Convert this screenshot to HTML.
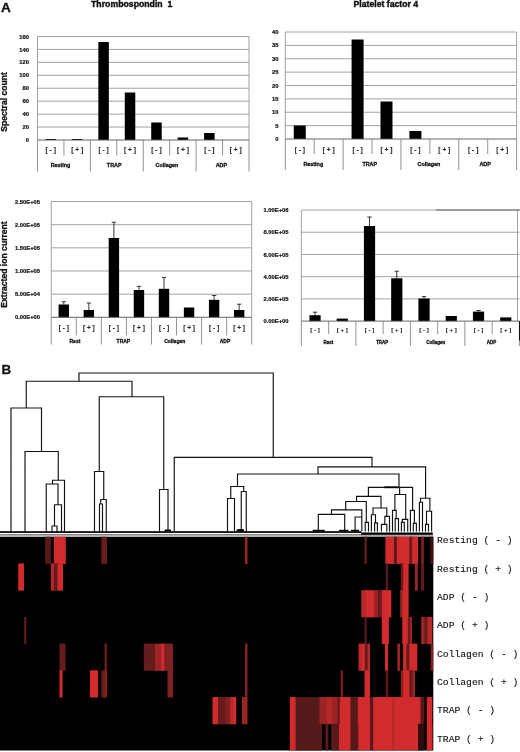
<!DOCTYPE html>
<html><head><meta charset="utf-8"><title>Figure</title>
<style>
html,body{margin:0;padding:0;background:#fff;}
body{width:520px;height:752px;overflow:hidden;}
svg{display:block;font-family:"Liberation Sans",sans-serif;}
.mono{font-family:"Liberation Mono",monospace;}
</style></head><body>
<svg width="520" height="752" viewBox="0 0 520 752">
<rect x="0" y="0" width="520" height="752" fill="#fff"/>

<text x="0.9" y="12.4" font-size="13.6" text-anchor="start" font-weight="bold" fill="#111" stroke="#111" stroke-width="0.3">A</text>
<text x="1.6" y="374.4" font-size="13.4" text-anchor="start" font-weight="bold" fill="#111" stroke="#111" stroke-width="0.3">B</text>
<text x="131.7" y="7.3" font-size="8.6" text-anchor="middle" font-weight="bold" fill="#111" stroke="#111" stroke-width="0.4" xml:space="preserve" textLength="81.4" lengthAdjust="spacingAndGlyphs">Thrombospondin&#160;&#160;1</text>
<text x="385.8" y="6.5" font-size="8.5" text-anchor="middle" font-weight="bold" fill="#111" stroke="#111" stroke-width="0.4" textLength="64.4" lengthAdjust="spacingAndGlyphs">Platelet factor 4</text>
<text transform="translate(7.1,102) rotate(-90)" font-size="8.6" font-weight="bold" text-anchor="middle" fill="#111" stroke="#111" stroke-width="0.3">Spectral count</text>
<text transform="translate(7.0,264.5) rotate(-90)" font-size="8.6" font-weight="bold" text-anchor="middle" fill="#111" stroke="#111" stroke-width="0.3">Extracted ion current</text>
<text x="29" y="142.09" font-size="5.8" text-anchor="end" font-weight="bold" fill="#111" stroke="#111" stroke-width="0.2">0</text>
<line x1="37.5" y1="127.06" x2="249" y2="127.06" stroke="#8c8c8c" stroke-width="0.8"/>
<text x="29" y="129.15" font-size="5.8" text-anchor="end" font-weight="bold" fill="#111" stroke="#111" stroke-width="0.2">20</text>
<line x1="37.5" y1="114.12" x2="249" y2="114.12" stroke="#8c8c8c" stroke-width="0.8"/>
<text x="29" y="116.21" font-size="5.8" text-anchor="end" font-weight="bold" fill="#111" stroke="#111" stroke-width="0.2">40</text>
<line x1="37.5" y1="101.19" x2="249" y2="101.19" stroke="#8c8c8c" stroke-width="0.8"/>
<text x="29" y="103.28" font-size="5.8" text-anchor="end" font-weight="bold" fill="#111" stroke="#111" stroke-width="0.2">60</text>
<line x1="37.5" y1="88.25" x2="249" y2="88.25" stroke="#8c8c8c" stroke-width="0.8"/>
<text x="29" y="90.34" font-size="5.8" text-anchor="end" font-weight="bold" fill="#111" stroke="#111" stroke-width="0.2">80</text>
<line x1="37.5" y1="75.31" x2="249" y2="75.31" stroke="#8c8c8c" stroke-width="0.8"/>
<text x="29" y="77.4" font-size="5.8" text-anchor="end" font-weight="bold" fill="#111" stroke="#111" stroke-width="0.2">100</text>
<line x1="37.5" y1="62.38" x2="249" y2="62.38" stroke="#8c8c8c" stroke-width="0.8"/>
<text x="29" y="64.46" font-size="5.8" text-anchor="end" font-weight="bold" fill="#111" stroke="#111" stroke-width="0.2">120</text>
<line x1="37.5" y1="49.44" x2="249" y2="49.44" stroke="#8c8c8c" stroke-width="0.8"/>
<text x="29" y="51.53" font-size="5.8" text-anchor="end" font-weight="bold" fill="#111" stroke="#111" stroke-width="0.2">140</text>
<line x1="37.5" y1="36.5" x2="249" y2="36.5" stroke="#8c8c8c" stroke-width="0.8"/>
<text x="29" y="38.59" font-size="5.8" text-anchor="end" font-weight="bold" fill="#111" stroke="#111" stroke-width="0.2">160</text>
<line x1="37.5" y1="36.5" x2="37.5" y2="140" stroke="#8c8c8c" stroke-width="0.8"/>
<line x1="249" y1="36.5" x2="249" y2="140" stroke="#8c8c8c" stroke-width="0.8"/>
<rect x="45.47" y="139" width="10.5" height="1" fill="#000"/>
<rect x="71.91" y="139" width="10.5" height="1" fill="#000"/>
<rect x="98.34" y="42" width="10.5" height="98" fill="#000"/>
<rect x="124.78" y="92.5" width="10.5" height="47.5" fill="#000"/>
<rect x="151.22" y="122.5" width="10.5" height="17.5" fill="#000"/>
<rect x="177.66" y="137.5" width="10.5" height="2.5" fill="#000"/>
<rect x="204.09" y="133" width="10.5" height="7" fill="#000"/>
<line x1="37.5" y1="140" x2="249" y2="140" stroke="#555" stroke-width="0.9"/>
<line x1="37.5" y1="140" x2="37.5" y2="171.5" stroke="#777" stroke-width="0.8"/>
<line x1="63.94" y1="140" x2="63.94" y2="155.5" stroke="#777" stroke-width="0.8"/>
<line x1="90.38" y1="140" x2="90.38" y2="171.5" stroke="#777" stroke-width="0.8"/>
<line x1="116.81" y1="140" x2="116.81" y2="155.5" stroke="#777" stroke-width="0.8"/>
<line x1="143.25" y1="140" x2="143.25" y2="171.5" stroke="#777" stroke-width="0.8"/>
<line x1="169.69" y1="140" x2="169.69" y2="155.5" stroke="#777" stroke-width="0.8"/>
<line x1="196.12" y1="140" x2="196.12" y2="171.5" stroke="#777" stroke-width="0.8"/>
<line x1="222.56" y1="140" x2="222.56" y2="155.5" stroke="#777" stroke-width="0.8"/>
<line x1="249" y1="140" x2="249" y2="171.5" stroke="#777" stroke-width="0.8"/>
<text x="50.72" y="152.18" font-size="6.6" text-anchor="middle" font-weight="bold" fill="#222" stroke="#222" stroke-width="0.08">[ - ]</text>
<text x="77.16" y="152.18" font-size="6.6" text-anchor="middle" font-weight="bold" fill="#222" stroke="#222" stroke-width="0.08">[ + ]</text>
<text x="103.59" y="152.18" font-size="6.6" text-anchor="middle" font-weight="bold" fill="#222" stroke="#222" stroke-width="0.08">[ - ]</text>
<text x="130.03" y="152.18" font-size="6.6" text-anchor="middle" font-weight="bold" fill="#222" stroke="#222" stroke-width="0.08">[ + ]</text>
<text x="156.47" y="152.18" font-size="6.6" text-anchor="middle" font-weight="bold" fill="#222" stroke="#222" stroke-width="0.08">[ - ]</text>
<text x="182.91" y="152.18" font-size="6.6" text-anchor="middle" font-weight="bold" fill="#222" stroke="#222" stroke-width="0.08">[ + ]</text>
<text x="209.34" y="152.18" font-size="6.6" text-anchor="middle" font-weight="bold" fill="#222" stroke="#222" stroke-width="0.08">[ - ]</text>
<text x="235.78" y="152.18" font-size="6.6" text-anchor="middle" font-weight="bold" fill="#222" stroke="#222" stroke-width="0.08">[ + ]</text>
<text x="60.54" y="166.94" font-size="5.4" text-anchor="middle" font-weight="bold" fill="#111" stroke="#111" stroke-width="0.28">Resting</text>
<text x="114.21" y="166.94" font-size="5.4" text-anchor="middle" font-weight="bold" fill="#111" stroke="#111" stroke-width="0.28">TRAP</text>
<text x="166.89" y="166.94" font-size="5.4" text-anchor="middle" font-weight="bold" fill="#111" stroke="#111" stroke-width="0.28">Collagen</text>
<text x="221.36" y="166.94" font-size="5.4" text-anchor="middle" font-weight="bold" fill="#111" stroke="#111" stroke-width="0.28">ADP</text>
<text x="278.5" y="141.09" font-size="5.8" text-anchor="end" font-weight="bold" fill="#111" stroke="#111" stroke-width="0.2">0</text>
<line x1="285.3" y1="125.62" x2="516.6" y2="125.62" stroke="#8c8c8c" stroke-width="0.8"/>
<text x="278.5" y="127.71" font-size="5.8" text-anchor="end" font-weight="bold" fill="#111" stroke="#111" stroke-width="0.2">5</text>
<line x1="285.3" y1="112.25" x2="516.6" y2="112.25" stroke="#8c8c8c" stroke-width="0.8"/>
<text x="278.5" y="114.34" font-size="5.8" text-anchor="end" font-weight="bold" fill="#111" stroke="#111" stroke-width="0.2">10</text>
<line x1="285.3" y1="98.88" x2="516.6" y2="98.88" stroke="#8c8c8c" stroke-width="0.8"/>
<text x="278.5" y="100.96" font-size="5.8" text-anchor="end" font-weight="bold" fill="#111" stroke="#111" stroke-width="0.2">15</text>
<line x1="285.3" y1="85.5" x2="516.6" y2="85.5" stroke="#8c8c8c" stroke-width="0.8"/>
<text x="278.5" y="87.59" font-size="5.8" text-anchor="end" font-weight="bold" fill="#111" stroke="#111" stroke-width="0.2">20</text>
<line x1="285.3" y1="72.12" x2="516.6" y2="72.12" stroke="#8c8c8c" stroke-width="0.8"/>
<text x="278.5" y="74.21" font-size="5.8" text-anchor="end" font-weight="bold" fill="#111" stroke="#111" stroke-width="0.2">25</text>
<line x1="285.3" y1="58.75" x2="516.6" y2="58.75" stroke="#8c8c8c" stroke-width="0.8"/>
<text x="278.5" y="60.84" font-size="5.8" text-anchor="end" font-weight="bold" fill="#111" stroke="#111" stroke-width="0.2">30</text>
<line x1="285.3" y1="45.38" x2="516.6" y2="45.38" stroke="#8c8c8c" stroke-width="0.8"/>
<text x="278.5" y="47.46" font-size="5.8" text-anchor="end" font-weight="bold" fill="#111" stroke="#111" stroke-width="0.2">35</text>
<line x1="285.3" y1="32" x2="516.6" y2="32" stroke="#8c8c8c" stroke-width="0.8"/>
<text x="278.5" y="34.09" font-size="5.8" text-anchor="end" font-weight="bold" fill="#111" stroke="#111" stroke-width="0.2">40</text>
<line x1="285.3" y1="32" x2="285.3" y2="139" stroke="#8c8c8c" stroke-width="0.8"/>
<line x1="516.6" y1="32" x2="516.6" y2="139" stroke="#8c8c8c" stroke-width="0.8"/>
<rect x="293.76" y="125.5" width="12" height="13.5" fill="#000"/>
<rect x="351.58" y="39.5" width="12" height="99.5" fill="#000"/>
<rect x="380.49" y="101.5" width="12" height="37.5" fill="#000"/>
<rect x="409.41" y="131" width="12" height="8" fill="#000"/>
<line x1="285.3" y1="139" x2="516.6" y2="139" stroke="#555" stroke-width="0.9"/>
<line x1="285.3" y1="139" x2="285.3" y2="170" stroke="#777" stroke-width="0.8"/>
<line x1="314.21" y1="139" x2="314.21" y2="154" stroke="#777" stroke-width="0.8"/>
<line x1="343.12" y1="139" x2="343.12" y2="170" stroke="#777" stroke-width="0.8"/>
<line x1="372.04" y1="139" x2="372.04" y2="154" stroke="#777" stroke-width="0.8"/>
<line x1="400.95" y1="139" x2="400.95" y2="170" stroke="#777" stroke-width="0.8"/>
<line x1="429.86" y1="139" x2="429.86" y2="154" stroke="#777" stroke-width="0.8"/>
<line x1="458.78" y1="139" x2="458.78" y2="170" stroke="#777" stroke-width="0.8"/>
<line x1="487.69" y1="139" x2="487.69" y2="154" stroke="#777" stroke-width="0.8"/>
<line x1="516.6" y1="139" x2="516.6" y2="170" stroke="#777" stroke-width="0.8"/>
<text x="299.76" y="151.68" font-size="6.6" text-anchor="middle" font-weight="bold" fill="#222" stroke="#222" stroke-width="0.08">[ - ]</text>
<text x="328.67" y="151.68" font-size="6.6" text-anchor="middle" font-weight="bold" fill="#222" stroke="#222" stroke-width="0.08">[ + ]</text>
<text x="357.58" y="151.68" font-size="6.6" text-anchor="middle" font-weight="bold" fill="#222" stroke="#222" stroke-width="0.08">[ - ]</text>
<text x="386.49" y="151.68" font-size="6.6" text-anchor="middle" font-weight="bold" fill="#222" stroke="#222" stroke-width="0.08">[ + ]</text>
<text x="415.41" y="151.68" font-size="6.6" text-anchor="middle" font-weight="bold" fill="#222" stroke="#222" stroke-width="0.08">[ - ]</text>
<text x="444.32" y="151.68" font-size="6.6" text-anchor="middle" font-weight="bold" fill="#222" stroke="#222" stroke-width="0.08">[ + ]</text>
<text x="473.23" y="151.68" font-size="6.6" text-anchor="middle" font-weight="bold" fill="#222" stroke="#222" stroke-width="0.08">[ - ]</text>
<text x="502.14" y="151.68" font-size="6.6" text-anchor="middle" font-weight="bold" fill="#222" stroke="#222" stroke-width="0.08">[ + ]</text>
<text x="313.31" y="166.24" font-size="5.4" text-anchor="middle" font-weight="bold" fill="#111" stroke="#111" stroke-width="0.28">Resting</text>
<text x="369.74" y="166.24" font-size="5.4" text-anchor="middle" font-weight="bold" fill="#111" stroke="#111" stroke-width="0.28">TRAP</text>
<text x="428.96" y="166.24" font-size="5.4" text-anchor="middle" font-weight="bold" fill="#111" stroke="#111" stroke-width="0.28">Collagen</text>
<text x="485.09" y="166.24" font-size="5.4" text-anchor="middle" font-weight="bold" fill="#111" stroke="#111" stroke-width="0.28">ADP</text>
<text x="40" y="319.39" font-size="5.8" text-anchor="end" font-weight="bold" fill="#111" stroke="#111" stroke-width="0.2">0.00E+00</text>
<line x1="51.25" y1="294.14" x2="251.7" y2="294.14" stroke="#8c8c8c" stroke-width="0.8"/>
<text x="40" y="296.23" font-size="5.8" text-anchor="end" font-weight="bold" fill="#111" stroke="#111" stroke-width="0.2">5.00E+04</text>
<line x1="51.25" y1="270.98" x2="251.7" y2="270.98" stroke="#8c8c8c" stroke-width="0.8"/>
<text x="40" y="273.07" font-size="5.8" text-anchor="end" font-weight="bold" fill="#111" stroke="#111" stroke-width="0.2">1.00E+05</text>
<line x1="51.25" y1="247.82" x2="251.7" y2="247.82" stroke="#8c8c8c" stroke-width="0.8"/>
<text x="40" y="249.91" font-size="5.8" text-anchor="end" font-weight="bold" fill="#111" stroke="#111" stroke-width="0.2">1.50E+05</text>
<line x1="51.25" y1="224.66" x2="251.7" y2="224.66" stroke="#8c8c8c" stroke-width="0.8"/>
<text x="40" y="226.75" font-size="5.8" text-anchor="end" font-weight="bold" fill="#111" stroke="#111" stroke-width="0.2">2.00E+05</text>
<line x1="51.25" y1="201.5" x2="251.7" y2="201.5" stroke="#8c8c8c" stroke-width="0.8"/>
<text x="40" y="203.59" font-size="5.8" text-anchor="end" font-weight="bold" fill="#111" stroke="#111" stroke-width="0.2">2.50E+05</text>
<line x1="51.25" y1="201.5" x2="51.25" y2="317.3" stroke="#8c8c8c" stroke-width="0.8"/>
<line x1="251.7" y1="201.5" x2="251.7" y2="317.3" stroke="#8c8c8c" stroke-width="0.8"/>
<line x1="63.78" y1="301.75" x2="63.78" y2="304.5" stroke="#222" stroke-width="0.9"/>
<line x1="61.58" y1="301.75" x2="65.98" y2="301.75" stroke="#222" stroke-width="0.9"/>
<rect x="58.58" y="304.5" width="10.4" height="12.8" fill="#000"/>
<line x1="88.83" y1="303" x2="88.83" y2="310" stroke="#222" stroke-width="0.9"/>
<line x1="86.63" y1="303" x2="91.03" y2="303" stroke="#222" stroke-width="0.9"/>
<rect x="83.63" y="310" width="10.4" height="7.3" fill="#000"/>
<line x1="113.89" y1="222.2" x2="113.89" y2="238" stroke="#222" stroke-width="0.9"/>
<line x1="111.69" y1="222.2" x2="116.09" y2="222.2" stroke="#222" stroke-width="0.9"/>
<rect x="108.69" y="238" width="10.4" height="79.3" fill="#000"/>
<line x1="138.95" y1="286.3" x2="138.95" y2="290" stroke="#222" stroke-width="0.9"/>
<line x1="136.75" y1="286.3" x2="141.15" y2="286.3" stroke="#222" stroke-width="0.9"/>
<rect x="133.75" y="290" width="10.4" height="27.3" fill="#000"/>
<line x1="164" y1="277.4" x2="164" y2="288.8" stroke="#222" stroke-width="0.9"/>
<line x1="161.8" y1="277.4" x2="166.2" y2="277.4" stroke="#222" stroke-width="0.9"/>
<rect x="158.8" y="288.8" width="10.4" height="28.5" fill="#000"/>
<rect x="183.86" y="307.5" width="10.4" height="9.8" fill="#000"/>
<line x1="214.12" y1="295.5" x2="214.12" y2="299.8" stroke="#222" stroke-width="0.9"/>
<line x1="211.92" y1="295.5" x2="216.32" y2="295.5" stroke="#222" stroke-width="0.9"/>
<rect x="208.92" y="299.8" width="10.4" height="17.5" fill="#000"/>
<line x1="239.17" y1="304.2" x2="239.17" y2="310" stroke="#222" stroke-width="0.9"/>
<line x1="236.97" y1="304.2" x2="241.37" y2="304.2" stroke="#222" stroke-width="0.9"/>
<rect x="233.97" y="310" width="10.4" height="7.3" fill="#000"/>
<line x1="51.25" y1="317.3" x2="251.7" y2="317.3" stroke="#555" stroke-width="0.9"/>
<line x1="51.25" y1="317.3" x2="51.25" y2="344.5" stroke="#777" stroke-width="0.8"/>
<line x1="76.31" y1="317.3" x2="76.31" y2="335.5" stroke="#777" stroke-width="0.8"/>
<line x1="101.36" y1="317.3" x2="101.36" y2="344.5" stroke="#777" stroke-width="0.8"/>
<line x1="126.42" y1="317.3" x2="126.42" y2="335.5" stroke="#777" stroke-width="0.8"/>
<line x1="151.47" y1="317.3" x2="151.47" y2="344.5" stroke="#777" stroke-width="0.8"/>
<line x1="176.53" y1="317.3" x2="176.53" y2="335.5" stroke="#777" stroke-width="0.8"/>
<line x1="201.59" y1="317.3" x2="201.59" y2="344.5" stroke="#777" stroke-width="0.8"/>
<line x1="226.64" y1="317.3" x2="226.64" y2="335.5" stroke="#777" stroke-width="0.8"/>
<line x1="251.7" y1="317.3" x2="251.7" y2="344.5" stroke="#777" stroke-width="0.8"/>
<text x="63.78" y="330.14" font-size="6.5" text-anchor="middle" font-weight="bold" fill="#222" stroke="#222" stroke-width="0.08">[ - ]</text>
<text x="88.83" y="330.14" font-size="6.5" text-anchor="middle" font-weight="bold" fill="#222" stroke="#222" stroke-width="0.08">[ + ]</text>
<text x="113.89" y="330.14" font-size="6.5" text-anchor="middle" font-weight="bold" fill="#222" stroke="#222" stroke-width="0.08">[ - ]</text>
<text x="138.95" y="330.14" font-size="6.5" text-anchor="middle" font-weight="bold" fill="#222" stroke="#222" stroke-width="0.08">[ + ]</text>
<text x="164" y="330.14" font-size="6.5" text-anchor="middle" font-weight="bold" fill="#222" stroke="#222" stroke-width="0.08">[ - ]</text>
<text x="189.06" y="330.14" font-size="6.5" text-anchor="middle" font-weight="bold" fill="#222" stroke="#222" stroke-width="0.08">[ + ]</text>
<text x="214.12" y="330.14" font-size="6.5" text-anchor="middle" font-weight="bold" fill="#222" stroke="#222" stroke-width="0.08">[ - ]</text>
<text x="239.17" y="330.14" font-size="6.5" text-anchor="middle" font-weight="bold" fill="#222" stroke="#222" stroke-width="0.08">[ + ]</text>
<text x="74.91" y="342.8" font-size="5.0" text-anchor="middle" font-weight="bold" fill="#111" stroke="#111" stroke-width="0.28">Rest</text>
<text x="123.42" y="342.8" font-size="5.0" text-anchor="middle" font-weight="bold" fill="#111" stroke="#111" stroke-width="0.28">TRAP</text>
<text x="174.73" y="342.8" font-size="5.0" text-anchor="middle" font-weight="bold" fill="#111" stroke="#111" stroke-width="0.28">Collagen</text>
<text x="225.04" y="342.8" font-size="5.0" text-anchor="middle" font-weight="bold" fill="#111" stroke="#111" stroke-width="0.28">ADP</text>
<text x="288.5" y="323.19" font-size="5.8" text-anchor="end" font-weight="bold" fill="#111" stroke="#111" stroke-width="0.2">0.00E+00</text>
<line x1="301.4" y1="298.88" x2="519.4" y2="298.88" stroke="#8c8c8c" stroke-width="0.8"/>
<text x="288.5" y="300.97" font-size="5.8" text-anchor="end" font-weight="bold" fill="#111" stroke="#111" stroke-width="0.2">2.00E+05</text>
<line x1="301.4" y1="276.66" x2="519.4" y2="276.66" stroke="#8c8c8c" stroke-width="0.8"/>
<text x="288.5" y="278.75" font-size="5.8" text-anchor="end" font-weight="bold" fill="#111" stroke="#111" stroke-width="0.2">4.00E+05</text>
<line x1="301.4" y1="254.44" x2="519.4" y2="254.44" stroke="#8c8c8c" stroke-width="0.8"/>
<text x="288.5" y="256.53" font-size="5.8" text-anchor="end" font-weight="bold" fill="#111" stroke="#111" stroke-width="0.2">6.00E+05</text>
<line x1="301.4" y1="232.22" x2="519.4" y2="232.22" stroke="#8c8c8c" stroke-width="0.8"/>
<text x="288.5" y="234.31" font-size="5.8" text-anchor="end" font-weight="bold" fill="#111" stroke="#111" stroke-width="0.2">8.00E+05</text>
<line x1="301.4" y1="210" x2="519.4" y2="210" stroke="#8c8c8c" stroke-width="0.8"/>
<text x="288.5" y="212.09" font-size="5.8" text-anchor="end" font-weight="bold" fill="#111" stroke="#111" stroke-width="0.2">1.00E+06</text>
<line x1="301.4" y1="210" x2="301.4" y2="321.1" stroke="#8c8c8c" stroke-width="0.8"/>
<line x1="517.5" y1="210" x2="517.5" y2="321.1" stroke="#8c8c8c" stroke-width="0.8"/>
<line x1="315.02" y1="312.2" x2="315.02" y2="315.2" stroke="#222" stroke-width="0.9"/>
<line x1="312.82" y1="312.2" x2="317.22" y2="312.2" stroke="#222" stroke-width="0.9"/>
<rect x="309.42" y="315.2" width="11.2" height="5.9" fill="#000"/>
<rect x="336.67" y="318.6" width="11.2" height="2.5" fill="#000"/>
<line x1="369.52" y1="217" x2="369.52" y2="226" stroke="#222" stroke-width="0.9"/>
<line x1="367.32" y1="217" x2="371.72" y2="217" stroke="#222" stroke-width="0.9"/>
<rect x="363.92" y="226" width="11.2" height="95.1" fill="#000"/>
<line x1="396.77" y1="271.2" x2="396.77" y2="278.3" stroke="#222" stroke-width="0.9"/>
<line x1="394.57" y1="271.2" x2="398.97" y2="271.2" stroke="#222" stroke-width="0.9"/>
<rect x="391.17" y="278.3" width="11.2" height="42.8" fill="#000"/>
<line x1="424.02" y1="296.6" x2="424.02" y2="298.5" stroke="#222" stroke-width="0.9"/>
<line x1="421.82" y1="296.6" x2="426.22" y2="296.6" stroke="#222" stroke-width="0.9"/>
<rect x="418.42" y="298.5" width="11.2" height="22.6" fill="#000"/>
<rect x="445.67" y="316" width="11.2" height="5.1" fill="#000"/>
<line x1="478.52" y1="310.5" x2="478.52" y2="311.6" stroke="#222" stroke-width="0.9"/>
<line x1="476.32" y1="310.5" x2="480.72" y2="310.5" stroke="#222" stroke-width="0.9"/>
<rect x="472.92" y="311.6" width="11.2" height="9.5" fill="#000"/>
<rect x="500.17" y="317.4" width="11.2" height="3.7" fill="#000"/>
<line x1="301.4" y1="321.1" x2="519.4" y2="321.1" stroke="#555" stroke-width="0.9"/>
<line x1="301.4" y1="321.1" x2="301.4" y2="346" stroke="#777" stroke-width="0.8"/>
<line x1="328.65" y1="321.1" x2="328.65" y2="334" stroke="#777" stroke-width="0.8"/>
<line x1="355.9" y1="321.1" x2="355.9" y2="346" stroke="#777" stroke-width="0.8"/>
<line x1="383.15" y1="321.1" x2="383.15" y2="334" stroke="#777" stroke-width="0.8"/>
<line x1="410.4" y1="321.1" x2="410.4" y2="346" stroke="#777" stroke-width="0.8"/>
<line x1="437.65" y1="321.1" x2="437.65" y2="334" stroke="#777" stroke-width="0.8"/>
<line x1="464.9" y1="321.1" x2="464.9" y2="346" stroke="#777" stroke-width="0.8"/>
<line x1="492.15" y1="321.1" x2="492.15" y2="334" stroke="#777" stroke-width="0.8"/>
<line x1="519.4" y1="321.1" x2="519.4" y2="346" stroke="#777" stroke-width="0.8"/>
<text x="315.02" y="331.6" font-size="6.1" text-anchor="middle" font-weight="bold" fill="#222" stroke="#222" stroke-width="0.08">[ - ]</text>
<text x="342.27" y="331.6" font-size="6.1" text-anchor="middle" font-weight="bold" fill="#222" stroke="#222" stroke-width="0.08">[ + ]</text>
<text x="369.52" y="331.6" font-size="6.1" text-anchor="middle" font-weight="bold" fill="#222" stroke="#222" stroke-width="0.08">[ - ]</text>
<text x="396.77" y="331.6" font-size="6.1" text-anchor="middle" font-weight="bold" fill="#222" stroke="#222" stroke-width="0.08">[ + ]</text>
<text x="424.02" y="331.6" font-size="6.1" text-anchor="middle" font-weight="bold" fill="#222" stroke="#222" stroke-width="0.08">[ - ]</text>
<text x="451.27" y="331.6" font-size="6.1" text-anchor="middle" font-weight="bold" fill="#222" stroke="#222" stroke-width="0.08">[ + ]</text>
<text x="478.52" y="331.6" font-size="6.1" text-anchor="middle" font-weight="bold" fill="#222" stroke="#222" stroke-width="0.08">[ - ]</text>
<text x="505.77" y="331.6" font-size="6.1" text-anchor="middle" font-weight="bold" fill="#222" stroke="#222" stroke-width="0.08">[ + ]</text>
<text x="328.35" y="343.52" font-size="4.5" text-anchor="middle" font-weight="bold" fill="#111" stroke="#111" stroke-width="0.28">Rest</text>
<text x="382.25" y="343.52" font-size="4.5" text-anchor="middle" font-weight="bold" fill="#111" stroke="#111" stroke-width="0.28">TRAP</text>
<text x="435.8" y="343.52" font-size="4.5" text-anchor="middle" font-weight="bold" fill="#111" stroke="#111" stroke-width="0.28">Collagen</text>
<text x="491.5" y="343.52" font-size="4.5" text-anchor="middle" font-weight="bold" fill="#111" stroke="#111" stroke-width="0.28">ADP</text>
<line x1="436" y1="210" x2="520" y2="210" stroke="#666" stroke-width="1.0"/>
<line x1="519.6" y1="321" x2="519.6" y2="340.5" stroke="#111" stroke-width="1.2"/>
<g stroke="#111" stroke-width="1.15" stroke-linecap="square" fill="none">
<path d="M79 373H273.25M26.25 381.25H132M11 408H41.5M25 451.5H58.25M52.5 480.25H64.5M46.25 484H58M54.5 504.75H61.5M52 526H57M99.25 396.75H163.75M94.5 471.5H103.75M100.75 499.5H106.25M99.5 504H102.5M159.5 489.5H168M165.75 530H170M174.25 457.3H372M318 466.8H425.6M237.5 474H399M230.75 486.5H243.75M227.5 498.5H234.5M241.25 491.5H246.25M238 529.5H243M368.4 487.3H412.6M356.6 496.3H381M345.7 501.5H366.3M365.2 522.4H368.5M331.5 509.9H361.8M355.1 517H361.8M318.3 514.3H344.7M373 508H386.8M371.4 514.7H375.5M374.6 522.9H377.4M384.8 516.3H389.5M381.4 524.4H386.8M394.9 494.5H405.7M392.5 510.3H396.2M395.2 518.6H398.5M402.3 519.3H407.7M401.4 522.4H404.3M410.4 510.3H414.4M413.3 523.3H416.4M420.5 498.2H429.9M419.4 502.2H422.5M426.5 511.2H431.6M425.5 524.4H428.5M79 373V381.25M273.25 373V457.3M26.25 381.25V408M132 381.25V396.75M11 408V532M41.5 408V451.5M25 451.5V532M58.25 451.5V480.25M64.5 480.25V532M52.5 480.25V484M46.25 484V532M58 484V504.75M61.5 504.75V532M54.5 504.75V526M52 526V532M57 526V532M99.25 396.75V471.5M163.75 396.75V489.5M94.5 471.5V532M103.75 471.5V499.5M106.25 499.5V532M100.75 499.5V504M99.5 504V532M102.5 504V532M159.5 489.5V532M168 489.5V530M174.25 457.3V532M372 457.3V466.8M318 466.8V474M425.6 466.8V498.2M237.5 474V486.5M399 474V487.3M230.75 486.5V498.5M243.75 486.5V491.5M227.5 498.5V532M234.5 498.5V532M241.25 491.5V529.5M246.25 491.5V532M368.4 487.3V496.3M412.6 487.3V510.3M356.6 496.3V501.5M381 496.3V508M345.7 501.5V509.9M366.3 501.5V522.4M365.2 522.4V532M368.5 522.4V532M331.5 509.9V514.3M361.8 509.9V532M355.1 517V532M318.3 514.3V532M344.7 514.3V532M373 508V514.7M386.8 508V516.3M371.4 514.7V532M375.5 514.7V522.9M374.6 522.9V532M377.4 522.9V532M389.5 516.3V532M384.8 516.3V524.4M381.4 524.4V532M386.8 524.4V532M399.6 487.3V494.5M394.9 494.5V510.3M392.5 510.3V532M396.2 510.3V518.6M395.2 518.6V532M398.5 518.6V532M405.7 494.5V519.3M407.7 519.3V532M402.3 519.3V522.4M401.4 522.4V532M404.3 522.4V532M410.4 510.3V532M414.4 510.3V523.3M413.3 523.3V532M416.4 523.3V532M420.5 498.2V502.2M429.9 498.2V511.2M419.4 502.2V532M422.5 502.2V532M431.6 511.2V532M426.5 511.2V524.4M425.5 524.4V532M428.5 524.4V532"/>
</g>
<line x1="384.4" y1="487.3" x2="399" y2="487.3" stroke="#000" stroke-width="1.8"/>
<line x1="312.7" y1="530.6" x2="324.8" y2="530.6" stroke="#000" stroke-width="1.6"/>
<line x1="339" y1="530.6" x2="348.4" y2="530.6" stroke="#000" stroke-width="1.6"/>
<line x1="351" y1="530.6" x2="359" y2="530.6" stroke="#000" stroke-width="1.6"/>
<line x1="236.5" y1="530.6" x2="244" y2="530.6" stroke="#000" stroke-width="1.6"/>
<line x1="164.5" y1="530.6" x2="171" y2="530.6" stroke="#000" stroke-width="1.6"/>
<rect x="0" y="531.2" width="361" height="1.7" fill="#000"/>
<rect x="0" y="534.1" width="361" height="1.5" fill="#7c7c7c"/>
<rect x="361" y="531.5" width="72.5" height="1.1" fill="#fff"/>
<rect x="361" y="532.5" width="71.8" height="2.4" fill="#000"/>
<rect x="361" y="534.9" width="72.3" height="1.6" fill="#b4a4a4"/>
<g>
<rect x="0" y="536.7" width="433.3" height="213.8" fill="#000"/>
<rect x="45.1" y="536.7" width="5.8" height="27.22" fill="#561a1a"/>
<rect x="53.8" y="536.7" width="12" height="27.22" fill="#d22b2d"/>
<rect x="101.25" y="536.7" width="5.75" height="27.22" fill="#661c1c"/>
<rect x="245" y="536.7" width="2.5" height="27.22" fill="#9c2424"/>
<rect x="364.5" y="536.7" width="2.3" height="27.22" fill="#661c1c"/>
<rect x="385.4" y="536.7" width="9.3" height="27.22" fill="#d22b2d"/>
<rect x="394.1" y="536.7" width="3.3" height="27.22" fill="#561a1a"/>
<rect x="396.8" y="536.7" width="13.2" height="27.22" fill="#d22b2d"/>
<rect x="409.4" y="536.7" width="3.3" height="27.22" fill="#661c1c"/>
<rect x="412.1" y="536.7" width="6" height="27.22" fill="#d22b2d"/>
<rect x="421.2" y="536.7" width="2.7" height="27.22" fill="#802020"/>
<rect x="429.9" y="536.7" width="3.4" height="27.22" fill="#3c1010"/>
<rect x="18.2" y="563.43" width="5.8" height="27.22" fill="#d22b2d"/>
<rect x="50.9" y="563.43" width="3.5" height="27.22" fill="#b82828"/>
<rect x="53.8" y="563.43" width="4.3" height="27.22" fill="#661c1c"/>
<rect x="57.5" y="563.43" width="5.5" height="27.22" fill="#d22b2d"/>
<rect x="385.8" y="563.43" width="2.3" height="27.22" fill="#561a1a"/>
<rect x="400.7" y="563.43" width="3" height="27.22" fill="#661c1c"/>
<rect x="403.1" y="563.43" width="5.5" height="27.22" fill="#d22b2d"/>
<rect x="414.9" y="563.43" width="2.9" height="27.22" fill="#9c2424"/>
<rect x="421.2" y="563.43" width="2.7" height="27.22" fill="#661c1c"/>
<rect x="361.3" y="590.15" width="5.3" height="27.22" fill="#b82828"/>
<rect x="366" y="590.15" width="8.5" height="27.22" fill="#d22b2d"/>
<rect x="373.9" y="590.15" width="4.6" height="27.22" fill="#9c2424"/>
<rect x="377.9" y="590.15" width="4.5" height="27.22" fill="#661c1c"/>
<rect x="381.8" y="590.15" width="9.5" height="27.22" fill="#d22b2d"/>
<rect x="400" y="590.15" width="2.9" height="27.22" fill="#802020"/>
<rect x="402.3" y="590.15" width="6.3" height="27.22" fill="#d22b2d"/>
<rect x="24.25" y="616.88" width="2" height="27.22" fill="#661c1c"/>
<rect x="364.5" y="616.88" width="2.3" height="27.22" fill="#561a1a"/>
<rect x="381.8" y="616.88" width="7.1" height="27.22" fill="#d22b2d"/>
<rect x="402.3" y="616.88" width="6.1" height="27.22" fill="#d22b2d"/>
<rect x="407.8" y="616.88" width="3" height="27.22" fill="#661c1c"/>
<rect x="410.2" y="616.88" width="1.6" height="27.22" fill="#b82828"/>
<rect x="421.2" y="616.88" width="3.8" height="27.22" fill="#9c2424"/>
<rect x="424.4" y="616.88" width="3.7" height="27.22" fill="#661c1c"/>
<rect x="427.5" y="616.88" width="4.8" height="27.22" fill="#b82828"/>
<rect x="59.5" y="643.6" width="6" height="27.22" fill="#661c1c"/>
<rect x="104.5" y="643.6" width="2.5" height="27.22" fill="#661c1c"/>
<rect x="143.75" y="643.6" width="11.85" height="27.22" fill="#661c1c"/>
<rect x="155" y="643.6" width="6.85" height="27.22" fill="#9c2424"/>
<rect x="161.25" y="643.6" width="3.6" height="27.22" fill="#d22b2d"/>
<rect x="164.25" y="643.6" width="3.85" height="27.22" fill="#802020"/>
<rect x="167.5" y="643.6" width="5.5" height="27.22" fill="#802020"/>
<rect x="245" y="643.6" width="2.5" height="27.22" fill="#802020"/>
<rect x="358.5" y="643.6" width="3.4" height="27.22" fill="#b82828"/>
<rect x="361.3" y="643.6" width="4.1" height="27.22" fill="#d22b2d"/>
<rect x="364.8" y="643.6" width="3.4" height="27.22" fill="#661c1c"/>
<rect x="367.6" y="643.6" width="2.4" height="27.22" fill="#b82828"/>
<rect x="385" y="643.6" width="3.1" height="27.22" fill="#d22b2d"/>
<rect x="397.3" y="643.6" width="2.7" height="27.22" fill="#9c2424"/>
<rect x="403.1" y="643.6" width="3.8" height="27.22" fill="#d22b2d"/>
<rect x="406.3" y="643.6" width="3.7" height="27.22" fill="#661c1c"/>
<rect x="409.4" y="643.6" width="7.9" height="27.22" fill="#d22b2d"/>
<rect x="430.7" y="643.6" width="2.6" height="27.22" fill="#802020"/>
<rect x="59.5" y="670.33" width="3" height="27.22" fill="#d22b2d"/>
<rect x="90" y="670.33" width="8" height="27.22" fill="#d22b2d"/>
<rect x="101.25" y="670.33" width="3.85" height="27.22" fill="#661c1c"/>
<rect x="104.5" y="670.33" width="2.5" height="27.22" fill="#802020"/>
<rect x="167.5" y="670.33" width="5.5" height="27.22" fill="#802020"/>
<rect x="245" y="670.33" width="2.5" height="27.22" fill="#802020"/>
<rect x="340.7" y="670.33" width="2.1" height="27.22" fill="#802020"/>
<rect x="364.5" y="670.33" width="5.5" height="27.22" fill="#d22b2d"/>
<rect x="385.8" y="670.33" width="2.3" height="27.22" fill="#661c1c"/>
<rect x="400.7" y="670.33" width="3" height="27.22" fill="#802020"/>
<rect x="403.1" y="670.33" width="6.9" height="27.22" fill="#d22b2d"/>
<rect x="409.4" y="670.33" width="3.8" height="27.22" fill="#661c1c"/>
<rect x="412.6" y="670.33" width="2.4" height="27.22" fill="#9c2424"/>
<rect x="212.5" y="697.05" width="6.1" height="27.22" fill="#d22b2d"/>
<rect x="218" y="697.05" width="7.6" height="27.22" fill="#661c1c"/>
<rect x="225" y="697.05" width="5.6" height="27.22" fill="#802020"/>
<rect x="230" y="697.05" width="3.6" height="27.22" fill="#b82828"/>
<rect x="233" y="697.05" width="3.25" height="27.22" fill="#d22b2d"/>
<rect x="242" y="697.05" width="5.5" height="27.22" fill="#9c2424"/>
<rect x="289.9" y="697.05" width="6.3" height="27.22" fill="#d22b2d"/>
<rect x="295.6" y="697.05" width="24.5" height="27.22" fill="#561a1a"/>
<rect x="319.5" y="697.05" width="8" height="27.22" fill="#9c2424"/>
<rect x="326.9" y="697.05" width="5.9" height="27.22" fill="#b82828"/>
<rect x="332.2" y="697.05" width="5.9" height="27.22" fill="#9c2424"/>
<rect x="337.5" y="697.05" width="2.9" height="27.22" fill="#661c1c"/>
<rect x="339.8" y="697.05" width="11.2" height="27.22" fill="#d22b2d"/>
<rect x="350.4" y="697.05" width="8" height="27.22" fill="#561a1a"/>
<rect x="357.8" y="697.05" width="12.8" height="27.22" fill="#d22b2d"/>
<rect x="370" y="697.05" width="3.7" height="27.22" fill="#561a1a"/>
<rect x="373.1" y="697.05" width="19.5" height="27.22" fill="#d22b2d"/>
<rect x="392" y="697.05" width="3.1" height="27.22" fill="#b82828"/>
<rect x="394.5" y="697.05" width="26.6" height="27.22" fill="#d22b2d"/>
<rect x="420.5" y="697.05" width="3.9" height="27.22" fill="#561a1a"/>
<rect x="426.8" y="697.05" width="5.5" height="27.22" fill="#d22b2d"/>
<rect x="289.9" y="723.77" width="6.3" height="26.72" fill="#d22b2d"/>
<rect x="295.6" y="723.77" width="26.4" height="26.72" fill="#561a1a"/>
<rect x="325.4" y="723.77" width="2.9" height="26.72" fill="#561a1a"/>
<rect x="331.2" y="723.77" width="8.4" height="26.72" fill="#561a1a"/>
<rect x="339" y="723.77" width="12" height="26.72" fill="#d22b2d"/>
<rect x="350.4" y="723.77" width="8.4" height="26.72" fill="#561a1a"/>
<rect x="358.2" y="723.77" width="12.4" height="26.72" fill="#d22b2d"/>
<rect x="370" y="723.77" width="3.7" height="26.72" fill="#561a1a"/>
<rect x="373.1" y="723.77" width="19.5" height="26.72" fill="#d22b2d"/>
<rect x="392" y="723.77" width="3.1" height="26.72" fill="#b82828"/>
<rect x="394.5" y="723.77" width="24.2" height="26.72" fill="#d22b2d"/>
<rect x="418.1" y="723.77" width="6.3" height="26.72" fill="#2c0c0c"/>
<rect x="426.8" y="723.77" width="5.7" height="26.72" fill="#d22b2d"/>
</g>
<text class="mono" x="437" y="543.3" font-size="9.7" fill="#111" stroke="#111" stroke-width="0.12" xml:space="preserve">Resting ( - )</text>
<text class="mono" x="437" y="571.63" font-size="9.7" fill="#111" stroke="#111" stroke-width="0.12" xml:space="preserve">Resting ( + )</text>
<text class="mono" x="437" y="599.96" font-size="9.7" fill="#111" stroke="#111" stroke-width="0.12" xml:space="preserve">ADP ( - )</text>
<text class="mono" x="437" y="628.29" font-size="9.7" fill="#111" stroke="#111" stroke-width="0.12" xml:space="preserve">ADP ( + )</text>
<text class="mono" x="437" y="656.62" font-size="9.7" fill="#111" stroke="#111" stroke-width="0.12" xml:space="preserve">Collagen ( - )</text>
<text class="mono" x="437" y="684.95" font-size="9.7" fill="#111" stroke="#111" stroke-width="0.12" xml:space="preserve">Collagen ( + )</text>
<text class="mono" x="437" y="713.28" font-size="9.7" fill="#111" stroke="#111" stroke-width="0.12" xml:space="preserve">TRAP ( - )</text>
<text class="mono" x="437" y="741.61" font-size="9.7" fill="#111" stroke="#111" stroke-width="0.12" xml:space="preserve">TRAP ( + )</text>
</svg>
</body></html>
